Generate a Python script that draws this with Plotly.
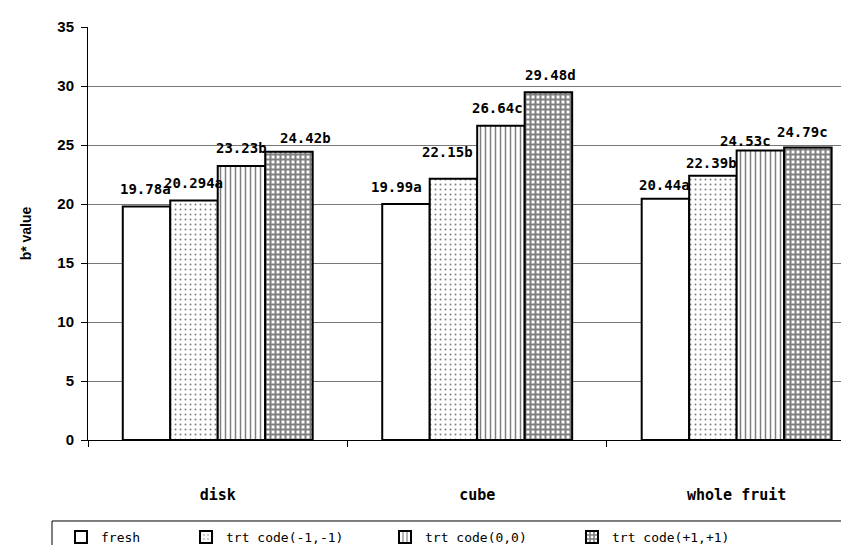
import plotly.graph_objects as go

categories = ["disk", "cube", "whole fruit"]
series_names = ["fresh", "trt code(-1,-1)", "trt code(0,0)", "trt code(+1,+1)"]
fresh = [19.78, 19.99, 20.44]
trt_m1 = [20.294, 22.15, 22.39]
trt_0 = [23.23, 26.64, 24.53]
trt_p1 = [24.42, 29.48, 24.79]
labels_fresh = ["19.78a", "19.99a", "20.44a"]
labels_m1 = ["20.294a", "22.15b", "22.39b"]
labels_0 = ["23.23b", "26.64c", "24.53c"]
labels_p1 = ["24.42b", "29.48d", "24.79c"]
y_ticks = [0, 5, 10, 15, 20, 25, 30, 35]

series = [fresh, trt_m1, trt_0, trt_p1]
series_labels = [labels_fresh, labels_m1, labels_0, labels_p1]

# label nudges in pixels (dx, dy above bar top), per series per category
label_dx = [[-1, -9, -1], [0, -6, -1], [0, -3, -15], [17, 2, -5]]
label_dy = [[18, 17, 14], [18, 27, 13], [18, 18, 10], [14, 17, 15]]

patterns = [
    dict(shape=""),
    dict(shape=".", size=5, solidity=0.12, fgcolor="black", bgcolor="white"),
    dict(shape="|", size=5, solidity=0.3, fgcolor="black", bgcolor="white"),
    dict(shape="+", size=5, solidity=0.65, fgcolor="black", bgcolor="white"),
]
legend_ids = ["legend", "legend2", "legend3", "legend4"]
legend_x = [-0.0355, 0.1288, 0.3903, 0.636]

bargap = 0.268
fig = go.Figure()
for name, vals, pat, lid in zip(series_names, series, patterns, legend_ids):
    fig.add_trace(go.Bar(
        x=categories, y=vals, name=name, legend=lid,
        marker=dict(color="white", line=dict(color="black", width=2), pattern=pat),
    ))

bw = (1 - bargap) / 4
annotations = []
for si, (vals, labs) in enumerate(zip(series, series_labels)):
    for ci, (v, lab) in enumerate(zip(vals, labs)):
        annotations.append(dict(
            x=ci + (si - 1.5) * bw, y=v, xref="x", yref="y",
            text=lab, showarrow=False, yanchor="middle",
            xshift=label_dx[si][ci], yshift=label_dy[si][ci],
            font=dict(family="DejaVu Sans Mono", size=14, color="black", weight="bold"),
        ))

legend_font = dict(family="DejaVu Sans Mono", size=13, color="black")
legends = {}
for lid, lx in zip(legend_ids, legend_x):
    legends[lid] = dict(
        orientation="h", x=lx, xanchor="left", y=-0.2349, yanchor="middle",
        bgcolor="rgba(0,0,0,0)", borderwidth=0, font=legend_font,
    )

fig.update_layout(
    width=841, height=537,
    margin=dict(l=80, r=0, t=19, b=105, autoexpand=False),
    paper_bgcolor="white", plot_bgcolor="white",
    barmode="group", bargap=bargap, bargroupgap=0,
    annotations=annotations,
    showlegend=True,
    shapes=[dict(type="rect", xref="paper", yref="paper",
                 x0=-0.0473, x1=1.2, y0=-0.1961, y1=-0.45,
                 line=dict(color="black", width=1), fillcolor="white", layer="below")],
    xaxis=dict(
        range=[-0.5, 2.433], showline=True, linecolor="black", linewidth=1,
        ticks="outside", tickson="boundaries", ticklen=6, tickcolor="black",
        showgrid=False, ticklabelstandoff=41, automargin=False,
        tickfont=dict(family="DejaVu Sans Mono", size=15, color="black", weight="bold"),
    ),
    yaxis=dict(
        range=[0, 35], tickvals=y_ticks, showline=True, linecolor="black", linewidth=1,
        ticks="outside", ticklen=6, tickcolor="black", ticklabelstandoff=4,
        showgrid=True, gridcolor="#777777", gridwidth=1, zeroline=False, automargin=False,
        tickfont=dict(family="Liberation Sans, Arial", size=15, color="black", weight="bold"),
        title=dict(text="b* value", standoff=22,
                   font=dict(family="Liberation Sans, Arial", size=14, color="black", weight="bold")),
    ),
    **legends,
)

fig.write_html("out.html")
